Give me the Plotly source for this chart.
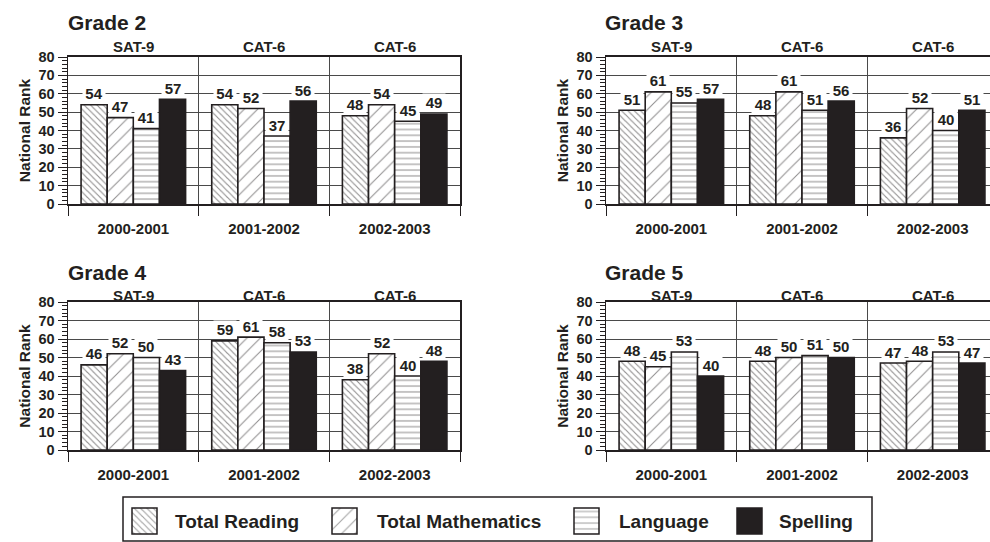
import plotly.graph_objects as go

# ---------------- data ----------------
years = ["2000-2001", "2001-2002", "2002-2003"]
tests = ["SAT-9", "CAT-6", "CAT-6"]
subjects = ["Total Reading", "Total Mathematics", "Language", "Spelling"]
grades = ["Grade 2", "Grade 3", "Grade 4", "Grade 5"]

grade2_reading = [54, 54, 48]
grade2_math = [47, 52, 54]
grade2_language = [41, 37, 45]
grade2_spelling = [57, 56, 49]

grade3_reading = [51, 48, 36]
grade3_math = [61, 61, 52]
grade3_language = [55, 51, 40]
grade3_spelling = [57, 56, 51]

grade4_reading = [46, 59, 38]
grade4_math = [52, 61, 52]
grade4_language = [50, 58, 40]
grade4_spelling = [43, 53, 48]

grade5_reading = [48, 48, 47]
grade5_math = [45, 50, 48]
grade5_language = [53, 51, 53]
grade5_spelling = [40, 50, 47]

y_ticks = [0, 10, 20, 30, 40, 50, 60, 70, 80]

# ---------------- styling ----------------
W, H = 990, 542
INK = "#231f20"
GRID = "#4a4a4a"
FONT = "Liberation Sans"
BARGAP = 0.2

patterns = [
    dict(shape="\\", size=4.5, solidity=0.25, fgcolor=INK, bgcolor="white", fillmode="overlay"),
    dict(shape="/", size=9.5, solidity=0.11, fgcolor=INK, bgcolor="white", fillmode="overlay"),
    dict(shape="-", size=5.8, solidity=0.18, fgcolor=INK, bgcolor="white", fillmode="overlay"),
    dict(shape=""),
]
fills = ["white", "white", "white", INK]


def f(size, weight="bold"):
    return dict(family=FONT, size=size, color=INK, weight=weight)


def px_y(p):
    return 1 - p / H


panel_data = [
    [grade2_reading, grade2_math, grade2_language, grade2_spelling],
    [grade3_reading, grade3_math, grade3_language, grade3_spelling],
    [grade4_reading, grade4_math, grade4_language, grade4_spelling],
    [grade5_reading, grade5_math, grade5_language, grade5_spelling],
]

group_px = (460 - 68) / 3.0
panels = [
    dict(left=68, right=460, top=57, bottom=204, title_y=23, test_y=46.5, title_x=66),
    dict(left=606, right=990, top=57, bottom=204, title_y=23, test_y=46.5, title_x=603),
    dict(left=68, right=460, top=302, bottom=450, title_y=272, test_y=295.5, title_x=66),
    dict(left=606, right=990, top=302, bottom=450, title_y=272, test_y=295.5, title_x=603),
]

fig = go.Figure()
annotations = []
layout_axes = {}

n_sub = len(subjects)
offsets = [(j - (n_sub - 1) / 2) * (1 - BARGAP) / n_sub for j in range(n_sub)]
group_x = list(range(len(years)))

for p, (panel, data) in enumerate(zip(panels, panel_data)):
    sfx = "" if p == 0 else str(p + 1)
    xa, ya = "x" + sfx, "y" + sfx
    xmax = -0.5 + (panel["right"] - panel["left"]) / group_px
    full = xmax >= 2.499

    for j, vals in enumerate(data):
        fig.add_trace(go.Bar(
            x=group_x, y=vals, name=subjects[j], xaxis=xa, yaxis=ya,
            marker=dict(color=fills[j], pattern=patterns[j],
                        line=dict(color=INK, width=1.6)),
            showlegend=False, hoverinfo="skip",
        ))
        for i, v in enumerate(vals):
            annotations.append(dict(
                x=group_x[i] + offsets[j], y=v, xref=xa, yref=ya,
                text=str(v), showarrow=False, yanchor="middle", yshift=11,
                font=f(15), bgcolor="white", width=22, borderpad=0,
            ))

    for i, t in enumerate(tests):
        annotations.append(dict(
            x=group_x[i], y=px_y(panel["test_y"]), xref=xa, yref="paper",
            text=t, showarrow=False, xanchor="center", yanchor="middle", font=f(15),
        ))
    annotations.append(dict(
        x=panel["title_x"] / W, y=px_y(panel["title_y"]), xref="paper", yref="paper",
        text=grades[p], showarrow=False, xanchor="left", yanchor="middle", font=f(21),
    ))

    layout_axes["xaxis" + sfx] = dict(
        domain=[panel["left"] / W, min(panel["right"] / W, 1.0)], anchor=ya,
        range=[-0.5, xmax], tickmode="array", tickvals=group_x, ticktext=years,
        ticks="", showgrid=False, zeroline=False, automargin=False,
        minor=dict(tickmode="array", tickvals=[-0.5, 0.5, 1.5, 2.5], ticks="outside",
                   ticklen=10, tickwidth=1, tickcolor=INK,
                   showgrid=True, gridcolor=GRID, gridwidth=1),
        showline=True, linecolor=INK, linewidth=2.2, mirror=True,
        ticklabelstandoff=10, tickfont=f(15), fixedrange=True,
    )
    layout_axes["yaxis" + sfx] = dict(
        domain=[px_y(panel["bottom"]), px_y(panel["top"])], anchor=xa,
        range=[0, 80], tickmode="array", tickvals=y_ticks, automargin=False,
        ticks="outside", ticklen=9, tickwidth=1, tickcolor=INK,
        minor=dict(dtick=2, ticks="outside", ticklen=5, tickwidth=1, tickcolor=INK, showgrid=False),
        showgrid=True, gridcolor=GRID, gridwidth=1,
        showline=True, linecolor=INK, linewidth=1.5, mirror=full, zeroline=False,
        tickfont=f(14.5),
        title=dict(text="National Rank", font=f(15.5), standoff=4),
        fixedrange=True,
    )

# ---------------- legend (patterned swatches + text) ----------------
leg_left, leg_right, leg_top, leg_bottom = 123, 872, 497, 541
swatch_x = [144.5, 344.5, 586.5, 749.5]
text_x = [173, 375, 617, 777]
fig.add_trace(go.Bar(
    x=swatch_x, y=[26] * 4, base=[7] * 4, width=[25] * 4, xaxis="x5", yaxis="y5",
    marker=dict(
        color=fills,
        pattern=dict(shape=[pt.get("shape", "") for pt in patterns],
                     size=[pt.get("size", 8) for pt in patterns],
                     solidity=[pt.get("solidity", 0.3) for pt in patterns],
                     fgcolor=INK, bgcolor=fills, fillmode="overlay"),
        line=dict(color=INK, width=1.5)),
    showlegend=False, hoverinfo="skip",
))
for name, tx in zip(subjects, text_x):
    annotations.append(dict(
        x=tx, y=19.5, xref="x5", yref="y5", text=name, showarrow=False,
        xanchor="left", yanchor="middle", font=f(19),
    ))
layout_axes["xaxis5"] = dict(domain=[leg_left / W, leg_right / W], anchor="y5", automargin=False,
                             range=[leg_left, leg_right], visible=False, fixedrange=True)
layout_axes["yaxis5"] = dict(domain=[px_y(leg_bottom), px_y(leg_top)], anchor="x5", automargin=False,
                             range=[0, leg_bottom - leg_top], visible=False, fixedrange=True)

fig.update_layout(
    width=W, height=H, margin=dict(l=0, r=0, t=0, b=0, autoexpand=False),
    paper_bgcolor="white", plot_bgcolor="white",
    barmode="group", bargap=BARGAP, bargroupgap=0,
    showlegend=False, annotations=annotations,
    shapes=[dict(type="rect", xref="paper", yref="paper",
                 x0=leg_left / W, x1=leg_right / W, y0=px_y(leg_bottom), y1=px_y(leg_top),
                 line=dict(color=INK, width=1.5), layer="below")],
    **layout_axes,
)

fig.write_html(
    "out.html",
    config={"displayModeBar": False, "staticPlot": True},
    post_script="document.body.style.margin='0';document.body.style.overflow='hidden';",
)
